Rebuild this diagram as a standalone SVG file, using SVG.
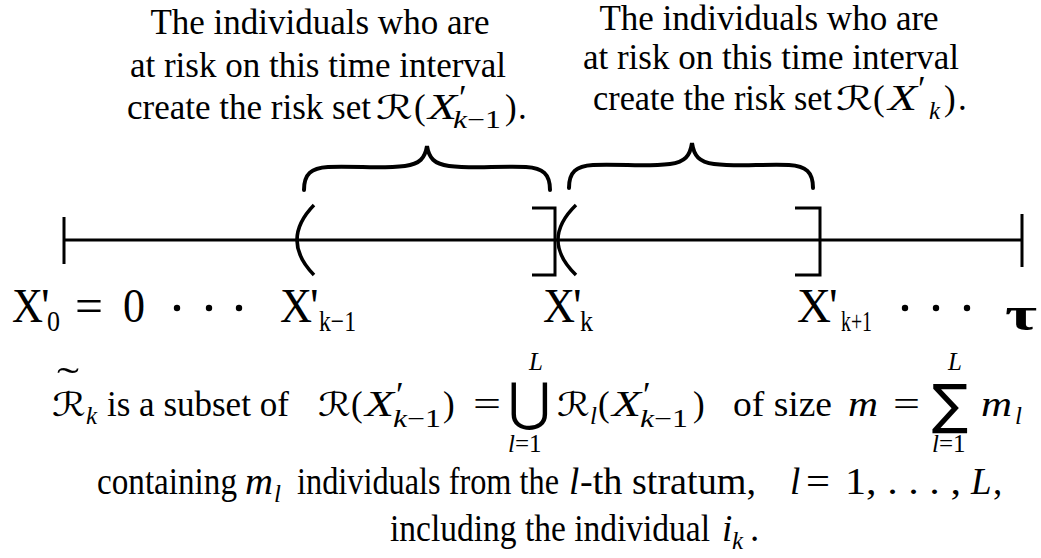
<svg xmlns="http://www.w3.org/2000/svg" width="1041" height="558" viewBox="0 0 1041 558">
<style>
text{font-family:"Liberation Serif","Times New Roman",serif;fill:#000}
.t{font-size:35px}
.c{font-size:37px}
.i{font-style:italic}
.lab{font-size:48px}
.sub{font-size:30px}
.s{font-size:25px}
.cal{font-family:"DejaVu Sans","DejaVu Serif",serif;font-size:33px}
.big{font-family:"DejaVu Sans","DejaVu Serif",serif}
.ln{stroke:#000;stroke-width:3;fill:none}
.br{stroke:#000;stroke-width:4;fill:none;stroke-linecap:round}
.pr{stroke:#000;stroke-width:3.5;fill:none}
</style>
<rect width="1041" height="558" fill="#fff"/>

<g id="note-left">
<text class="t" x="320" y="34" text-anchor="middle">The individuals who are</text>
<text class="t" x="318" y="77" text-anchor="middle">at risk on this time interval</text>
<text class="t" x="127" y="119" textLength="244" lengthAdjust="spacingAndGlyphs">create the risk set</text>
<text class="cal" x="376" y="119" textLength="37" lengthAdjust="spacingAndGlyphs">ℛ</text>
<text class="t" x="414" y="119">(</text>
<text class="t i" x="428" y="119" font-size="37" textLength="29" lengthAdjust="spacingAndGlyphs">X</text>
<text class="t" x="459" y="110" font-size="30">′</text>
<text class="s" x="453" y="128" font-size="26" textLength="48" lengthAdjust="spacingAndGlyphs"><tspan class="i">k</tspan>−1</text>
<text class="t" x="505" y="119">)</text>
<text class="t" x="518" y="119">.</text>
</g>

<g id="note-right">
<text class="t" x="769" y="30" text-anchor="middle">The individuals who are</text>
<text class="t" x="771" y="69" text-anchor="middle">at risk on this time interval</text>
<text class="t" x="593" y="110" textLength="239" lengthAdjust="spacingAndGlyphs">create the risk set</text>
<text class="cal" x="836" y="110" textLength="37" lengthAdjust="spacingAndGlyphs">ℛ</text>
<text class="t" x="873" y="110">(</text>
<text class="t i" x="888" y="110" font-size="37" textLength="29" lengthAdjust="spacingAndGlyphs">X</text>
<text class="t" x="918" y="101" font-size="30">′</text>
<text class="s i" x="929" y="119" font-size="26">k</text>
<text class="t" x="944" y="110">)</text>
<text class="t" x="958" y="110">.</text>
</g>

<g id="connectors">
<path class="ln" d="M64,240 H1022 M64,217 V264 M1022,214 V267"/>
<path class="pr" d="M314,205 Q280,240 314,275"/>
<path class="ln" d="M532,208 H555 V275 H532"/>
<path class="pr" d="M576,205 Q540,240 576,275"/>
<path class="ln" d="M795,208 H820 V275 H795"/>
<path class="br" d="M304,190 C304,174 311,168 328,167 C360,166 380,169 405,166 C420,164 425,158 427,146 C429,158 434,164 449,166 C474,169 494,166 526,167 C543,168 550,174 550,190"/>
<path class="br" d="M569,188 C569,172 576,166 593,165 C625,164 645,167 670,164 C685,162 690,156 692,143 C694,156 699,162 714,164 C739,167 759,164 789,165 C806,166 813,172 813,188"/>
</g>

<g id="labels">
<text class="lab" x="12" y="322" textLength="31" lengthAdjust="spacingAndGlyphs">X</text>
<text class="lab" x="41" y="322">'</text>
<text class="sub" x="47" y="331" textLength="13" lengthAdjust="spacingAndGlyphs">0</text>
<text class="lab" x="75" y="322" textLength="28" lengthAdjust="spacingAndGlyphs">=</text>
<text class="lab" x="123" y="322" textLength="22" lengthAdjust="spacingAndGlyphs">0</text>
<circle cx="177" cy="308" r="3.2"/><circle cx="209" cy="308" r="3.2"/><circle cx="239" cy="308" r="3.2"/>
<text class="lab" x="280" y="322" textLength="32" lengthAdjust="spacingAndGlyphs">X</text>
<text class="lab" x="310" y="322">'</text>
<text class="sub" x="319" y="331" textLength="37" lengthAdjust="spacingAndGlyphs">k−1</text>
<text class="lab" x="543" y="322" textLength="32" lengthAdjust="spacingAndGlyphs">X</text>
<text class="lab" x="573" y="322">'</text>
<text class="sub" x="580" y="331" textLength="13" lengthAdjust="spacingAndGlyphs">k</text>
<text class="lab" x="797" y="322" textLength="34" lengthAdjust="spacingAndGlyphs">X</text>
<text class="lab" x="829" y="322">'</text>
<text class="sub" x="841" y="331" textLength="31" lengthAdjust="spacingAndGlyphs">k+1</text>
<circle cx="905" cy="308" r="3.2"/><circle cx="936" cy="308" r="3.2"/><circle cx="967" cy="308" r="3.2"/>
<text class="lab" x="1005" y="330" font-weight="bold" font-size="72" textLength="32" lengthAdjust="spacingAndGlyphs">τ</text>
</g>

<g id="formula">
<text class="cal" x="52" y="416" textLength="34" lengthAdjust="spacingAndGlyphs">ℛ</text>
<text class="t" x="57" y="393" textLength="22" lengthAdjust="spacingAndGlyphs">˜</text>
<text class="s i" x="86" y="424">k</text>
<text class="t" x="107" y="416">is a subset of</text>
<text class="cal" x="318" y="416" textLength="33" lengthAdjust="spacingAndGlyphs">ℛ</text>
<text class="t" x="351" y="416">(</text>
<text class="t i" x="365" y="416" font-size="37" textLength="29" lengthAdjust="spacingAndGlyphs">X</text>
<text class="t" x="396" y="407" font-size="30">′</text>
<text class="s" x="393" y="427" font-size="26" textLength="48" lengthAdjust="spacingAndGlyphs"><tspan class="i">k</tspan>−1</text>
<text class="t" x="443" y="416">)</text>
<text class="t" x="473" y="416" textLength="28" lengthAdjust="spacingAndGlyphs">=</text>
<text class="big" x="508" y="420" font-size="52">⋃</text>
<text class="s i" x="529" y="370">L</text>
<text class="s" x="508" y="452"><tspan class="i">l</tspan>=1</text>
<text class="cal" x="557" y="416" textLength="33" lengthAdjust="spacingAndGlyphs">ℛ</text>
<text class="s i" x="590" y="424">l</text>
<text class="t" x="598" y="416">(</text>
<text class="t i" x="612" y="416" font-size="37" textLength="29" lengthAdjust="spacingAndGlyphs">X</text>
<text class="t" x="643" y="407" font-size="30">′</text>
<text class="s" x="640" y="427" font-size="26" textLength="48" lengthAdjust="spacingAndGlyphs"><tspan class="i">k</tspan>−1</text>
<text class="t" x="693" y="416">)</text>
<text class="t" x="733" y="416" textLength="99" lengthAdjust="spacingAndGlyphs">of size</text>
<text class="t i" x="848" y="416" textLength="30" lengthAdjust="spacingAndGlyphs">m</text>
<text class="t" x="893" y="416" textLength="27" lengthAdjust="spacingAndGlyphs">=</text>
<text class="big" x="932" y="423" font-size="54">∑</text>
<text class="s i" x="948" y="370">L</text>
<text class="s" x="932" y="452"><tspan class="i">l</tspan>=1</text>
<text class="t i" x="981" y="416" textLength="31" lengthAdjust="spacingAndGlyphs">m</text>
<text class="s i" x="1015" y="424">l</text>

<text class="c" x="97" y="494" textLength="140" lengthAdjust="spacingAndGlyphs">containing</text>
<text class="c i" x="245" y="494" textLength="28" lengthAdjust="spacingAndGlyphs">m</text>
<text class="s i" x="274" y="502">l</text>
<text class="c" x="297" y="494" textLength="262" lengthAdjust="spacingAndGlyphs">individuals from the</text>
<text class="c i" x="569" y="494">l</text>
<text class="c" x="580" y="494" textLength="176" lengthAdjust="spacingAndGlyphs">-th stratum,</text>
<text class="c i" x="790" y="494">l</text>
<text class="c" x="806" y="494" textLength="24" lengthAdjust="spacingAndGlyphs">=</text>
<text class="c" x="845" y="494" textLength="116" lengthAdjust="spacingAndGlyphs">1, . . . ,</text>
<text class="c i" x="971" y="494">L</text>
<text class="c" x="993" y="494">,</text>

<text class="c" x="390" y="541" textLength="320" lengthAdjust="spacingAndGlyphs">including the individual</text>
<text class="c i" x="722" y="541">i</text>
<text class="s i" x="732" y="549">k</text>
<text class="c" x="750" y="541">.</text>
</g>
</svg>
